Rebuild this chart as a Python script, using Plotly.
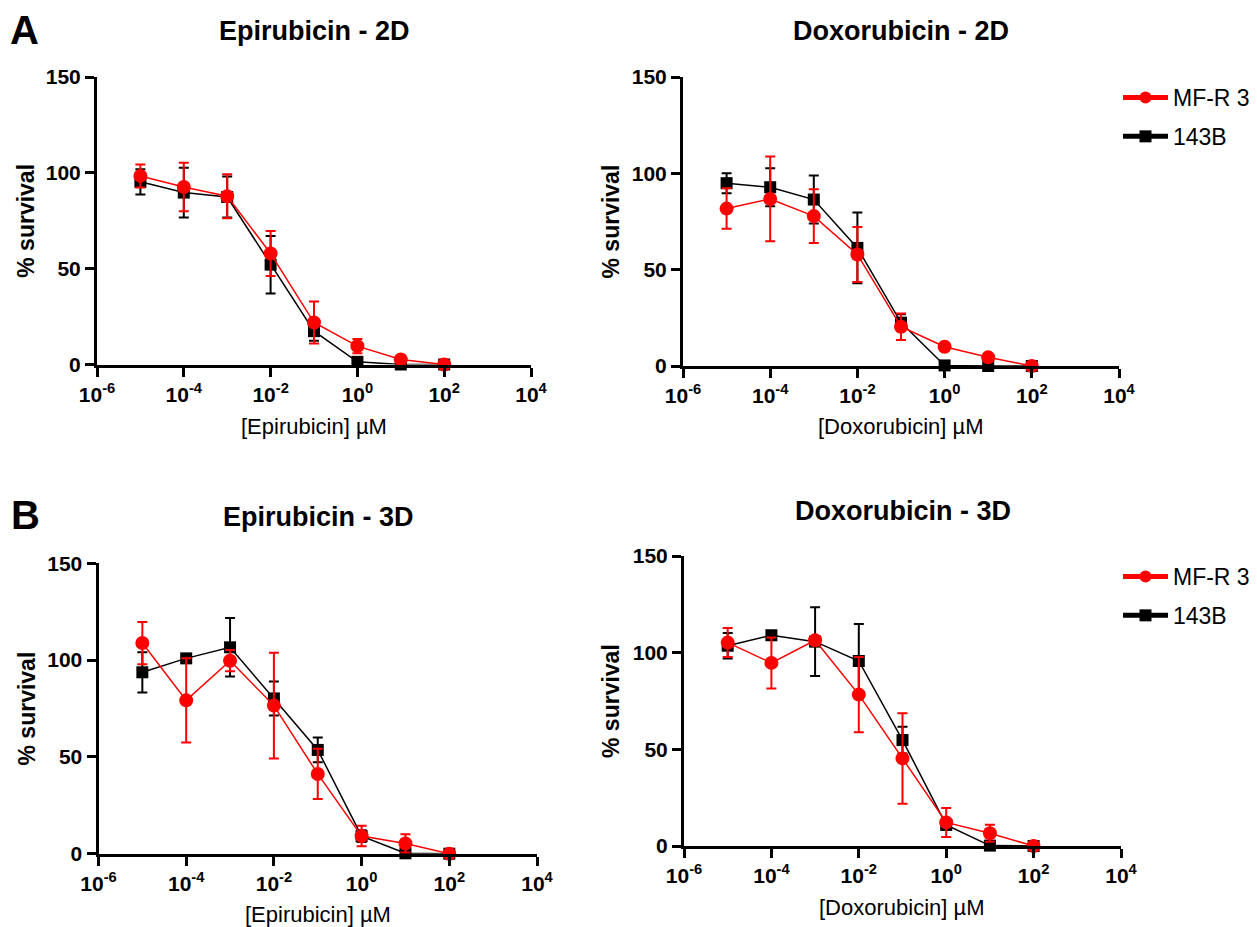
import plotly.graph_objects as go

conc = [1e-5, 1e-4, 1e-3, 1e-2, 1e-1, 1e0, 1e1, 1e2]

# Epirubicin - 2D
epi2d_mfr = [98.4, 92.6, 87.8, 57.9, 21.9, 9.6, 2.6, 0.0]
epi2d_mfr_err = [6.0, 12.7, 11.5, 11.7, 11.0, 3.7, 1.0, 0.0]
epi2d_143 = [95.3, 89.7, 87.4, 52.1, 17.4, 1.4, 0.0, 0.0]
epi2d_143_err = [6.6, 13.0, 10.7, 15.0, 5.0, 0.5, 0.0, 0.0]

# Doxorubicin - 2D
dox2d_mfr = [81.7, 86.7, 77.8, 57.9, 20.4, 10.0, 4.5, 0.0]
dox2d_mfr_err = [10.5, 22.0, 14.0, 14.3, 6.9, 1.0, 1.0, 0.0]
dox2d_143 = [94.9, 92.8, 86.4, 61.3, 22.5, 0.3, 0.0, 0.0]
dox2d_143_err = [5.2, 9.9, 12.5, 18.4, 4.3, 0.0, 0.0, 0.0]

# Epirubicin - 3D
epi3d_mfr = [108.8, 79.2, 99.7, 76.5, 41.2, 9.1, 5.3, 0.0]
epi3d_mfr_err = [10.9, 21.8, 5.5, 27.3, 13.0, 5.3, 4.7, 0.0]
epi3d_143 = [93.7, 100.9, 106.6, 80.2, 53.6, 9.1, 0.2, 0.0]
epi3d_143_err = [10.4, 1.0, 15.1, 8.8, 6.4, 3.0, 0.0, 0.0]

# Doxorubicin - 3D
dox3d_mfr = [105.2, 94.7, 106.4, 78.3, 45.3, 12.2, 6.6, 0.0]
dox3d_mfr_err = [7.5, 13.2, 1.5, 19.4, 23.4, 7.5, 4.4, 0.0]
dox3d_143 = [103.6, 109.0, 105.7, 95.7, 54.8, 10.9, 0.2, 0.0]
dox3d_143_err = [6.6, 1.0, 17.8, 19.1, 6.9, 1.0, 0.0, 0.0]

tickvals_x = [1e-6, 1e-4, 1e-2, 1e0, 1e2, 1e4]
ticktext_x = ["10<sup>-6</sup>", "10<sup>-4</sup>", "10<sup>-2</sup>",
              "10<sup>0</sup>", "10<sup>2</sup>", "10<sup>4</sup>"]
tickvals_y = [0, 50, 100, 150]

W, H = 1257, 927
OFF = 8  # page body margin offset


def px_x(v):
    return (v - OFF) / W


def px_y(v):
    return 1 - (v - OFF) / H


# pixel boxes: left, right, top, bottom ; title centre ; y-title x ; x-title y
panels = [
    dict(title="Epirubicin - 2D", xlabel="[Epirubicin] µM",
         mfr=epi2d_mfr, mfr_err=epi2d_mfr_err, b=epi2d_143, b_err=epi2d_143_err,
         box=(97, 531, 77, 364.5), tpos=(314, 31), ytx=26, xty=426, legend=None),
    dict(title="Doxorubicin - 2D", xlabel="[Doxorubicin] µM",
         mfr=dox2d_mfr, mfr_err=dox2d_mfr_err, b=dox2d_143, b_err=dox2d_143_err,
         box=(683, 1119, 77, 366), tpos=(901, 31), ytx=611, xty=427, legend="legend"),
    dict(title="Epirubicin - 3D", xlabel="[Epirubicin] µM",
         mfr=epi3d_mfr, mfr_err=epi3d_mfr_err, b=epi3d_143, b_err=epi3d_143_err,
         box=(98.5, 537, 563.3, 853.7), tpos=(318, 517), ytx=26, xty=914, legend=None),
    dict(title="Doxorubicin - 3D", xlabel="[Doxorubicin] µM",
         mfr=dox3d_mfr, mfr_err=dox3d_mfr_err, b=dox3d_143, b_err=dox3d_143_err,
         box=(684, 1121, 556, 846), tpos=(903, 511), ytx=611, xty=907, legend="legend2"),
]

RED = "#ff0000"
BLACK = "#000000"
FONT = "Liberation Sans"

fig = go.Figure()
annotations = []
layout = {}

for i, p in enumerate(panels):
    n = "" if i == 0 else str(i + 1)
    xa = "x" + n
    ya = "y" + n
    show = p["legend"] is not None
    leg = p["legend"] if show else "legend"
    l, r, t, b = p["box"]
    xd = [px_x(l), px_x(r)]
    yd = [px_y(b), px_y(t)]
    fig.add_trace(go.Scatter(
        x=conc, y=p["b"], xaxis=xa, yaxis=ya, name="143B",
        mode="lines+markers", cliponaxis=False, legendgroup="b" + n,
        line=dict(color=BLACK, width=1.5),
        marker=dict(symbol="square", size=12, color=BLACK),
        error_y=dict(type="data", array=p["b_err"], visible=True,
                     color=BLACK, thickness=2, width=5),
        showlegend=show, legend=leg, legendrank=2))
    fig.add_trace(go.Scatter(
        x=conc, y=p["mfr"], xaxis=xa, yaxis=ya, name="MF-R 3",
        mode="lines+markers", cliponaxis=False, legendgroup="r" + n,
        line=dict(color=RED, width=1.5),
        marker=dict(symbol="circle", size=14, color=RED),
        error_y=dict(type="data", array=p["mfr_err"], visible=True,
                     color=RED, thickness=2, width=5),
        showlegend=show, legend=leg, legendrank=1))

    layout["xaxis" + n] = dict(
        domain=xd, anchor=ya, type="log", range=[-6, 4],
        tickvals=tickvals_x, ticktext=ticktext_x, automargin=False,
        showgrid=False, zeroline=False, showline=True, linecolor=BLACK,
        linewidth=3, ticks="outside", ticklen=9, tickwidth=3, tickcolor=BLACK,
        tickfont=dict(family=FONT, size=21, color=BLACK, weight="bold"))
    layout["yaxis" + n] = dict(
        domain=yd, anchor=xa, range=[0, 150], automargin=False,
        tickvals=tickvals_y,
        showgrid=False, zeroline=False, showline=True, linecolor=BLACK,
        linewidth=3, ticks="outside", ticklen=9, tickwidth=3, tickcolor=BLACK,
        tickfont=dict(family=FONT, size=21, color=BLACK, weight="bold"))
    annotations.append(dict(
        text="<b>" + p["title"] + "</b>", x=px_x(p["tpos"][0]), y=px_y(p["tpos"][1]),
        xref="paper", yref="paper", xanchor="center", yanchor="middle",
        showarrow=False, font=dict(family=FONT, size=27, color=BLACK)))
    annotations.append(dict(
        text="<b>% survival</b>", x=px_x(p["ytx"]), y=px_y((t + b) / 2),
        xref="paper", yref="paper", xanchor="center", yanchor="middle",
        textangle=-90, showarrow=False, font=dict(family=FONT, size=23, color=BLACK)))
    annotations.append(dict(
        text=p["xlabel"], x=px_x((l + r) / 2), y=px_y(p["xty"]),
        xref="paper", yref="paper", xanchor="center", yanchor="middle",
        showarrow=False, font=dict(family=FONT, size=22, color=BLACK)))

annotations.append(dict(text="<b>A</b>", x=px_x(24), y=px_y(30), xref="paper",
                        yref="paper", xanchor="center", yanchor="middle",
                        showarrow=False, font=dict(family=FONT, size=40, color=BLACK)))
annotations.append(dict(text="<b>B</b>", x=px_x(25), y=px_y(515), xref="paper",
                        yref="paper", xanchor="center", yanchor="middle",
                        showarrow=False, font=dict(family=FONT, size=40, color=BLACK)))

legend_style = dict(font=dict(family=FONT, size=23, color=BLACK),
                    bgcolor="rgba(0,0,0,0)", xanchor="left", yanchor="top",
                    itemsizing="constant", itemwidth=45, tracegroupgap=6,
                    traceorder="grouped")

fig.update_layout(
    width=W, height=H,
    margin=dict(l=0, r=0, t=0, b=0, pad=0, autoexpand=False),
    paper_bgcolor="white", plot_bgcolor="white",
    showlegend=True,
    annotations=annotations,
    legend=dict(x=px_x(1118), y=px_y(76), **legend_style),
    legend2=dict(x=px_x(1118), y=px_y(555), **legend_style),
    **layout)

fig.write_html("out.html")
